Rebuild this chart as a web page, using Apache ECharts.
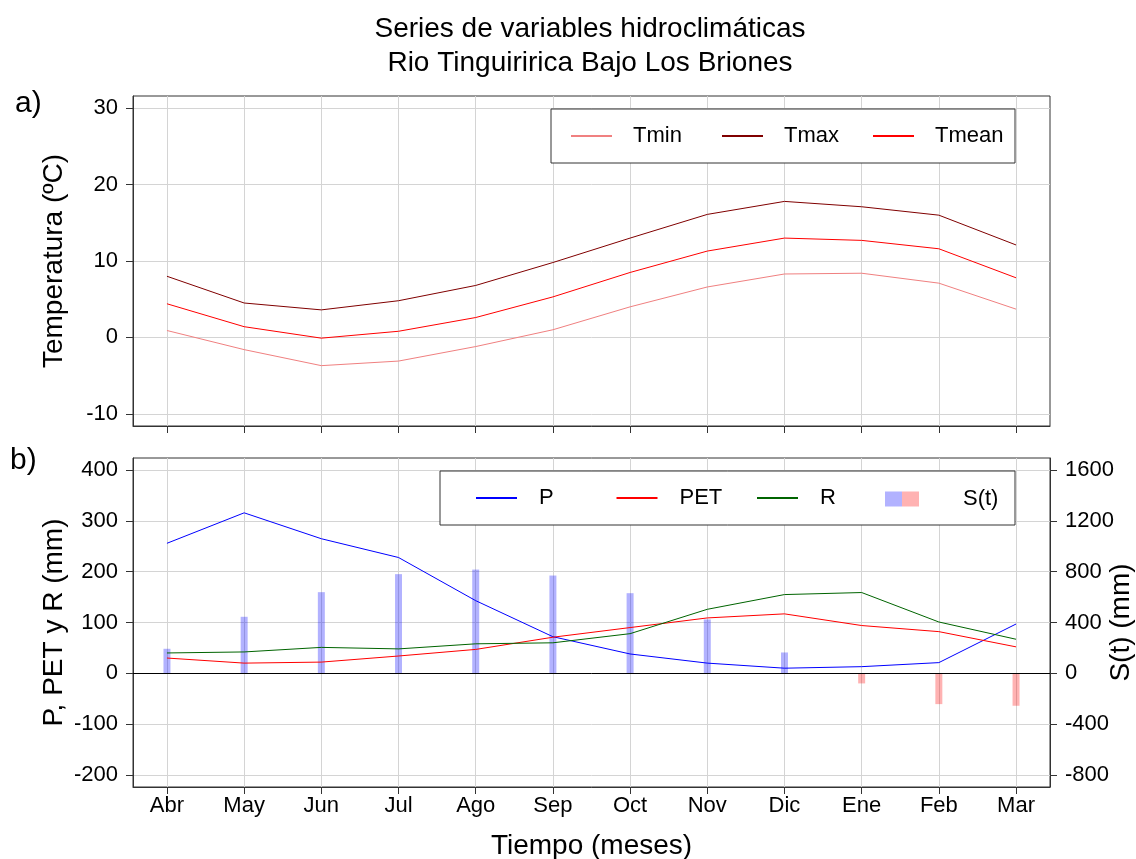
<!DOCTYPE html>
<html>
<head>
<meta charset="utf-8">
<script src="https://cdn.jsdelivr.net/npm/echarts@6.0.0/dist/echarts.min.js"></script>
<style>
  html, body { margin: 0; padding: 0; background: #ffffff; }
  #chart { width: 1136px; height: 859px; }
</style>
</head>
<body>
<div id="chart"></div>
<script>
// Monthly hydroclimatic series, hydrological year April–March
const months = ['Abr', 'May', 'Jun', 'Jul', 'Ago', 'Sep', 'Oct', 'Nov', 'Dic', 'Ene', 'Feb', 'Mar'];

// Temperatures (°C)
const tmin  = [0.9, -1.6, -3.7, -3.1, -1.2, 1.0, 4.0, 6.6, 8.3, 8.4, 7.1, 3.7];
const tmax  = [8.0, 4.5, 3.6, 4.8, 6.8, 9.8, 13.0, 16.1, 17.8, 17.1, 16.0, 12.1];
const tmean = [4.4, 1.4, -0.1, 0.8, 2.6, 5.3, 8.5, 11.3, 13.0, 12.7, 11.6, 7.8];

// Water balance terms (mm)
const precip = [256, 316, 265, 228, 143, 72, 38, 20, 10, 13, 21, 97];
const pet    = [30, 20, 22, 34, 47, 71, 90, 109, 117, 94, 82, 52];
const runoff = [40, 42, 51, 48, 58, 60, 78, 126, 155, 159, 101, 67];
const storage = [193, 445, 639, 781, 817, 770, 631, 424, 164, -80, -243, -256];

// Tick values
const tempTicks = [-10, 0, 10, 20, 30];
const balTicks = [-200, -100, 0, 100, 200, 300, 400];
const storTicks = [-800, -400, 0, 400, 800, 1200, 1600];

const FONT = 'Liberation Sans, Arial, sans-serif';
const frame = '#333333';
const gridGray = '#d4d4d4';

// 4% padding on each side of the data range
function padRange(lo, hi) {
  const d = (hi - lo) * 0.04;
  return [lo - d, hi + d];
}
const monthIdx = months.map((m, i) => i + 1);
const xRange = padRange(1, months.length);
const tRange = padRange(tempTicks[0], tempTicks[tempTicks.length - 1]);
const bRange = padRange(balTicks[0], balTicks[balTicks.length - 1]);
const sRange = padRange(storTicks[0], storTicks[storTicks.length - 1]);

const pairs = arr => arr.map((v, i) => [i + 1, v]);

const blueFill = 'rgba(0,0,255,0.3)';
const redFill = 'rgba(255,0,0,0.3)';
const BAR_W = 7;

function xAxisDef(gridIndex, withLabels) {
  return {
    type: 'value',
    gridIndex: gridIndex,
    min: xRange[0],
    max: xRange[1],
    splitNumber: 12,
    minInterval: 1,
    maxInterval: 1,
    axisLine: { show: true, onZero: false, lineStyle: { color: frame, width: 1 } },
    axisTick: { show: true, length: 7, customValues: monthIdx, lineStyle: { color: frame, width: 1 } },
    axisLabel: {
      show: withLabels,
      customValues: monthIdx,
      margin: 8,
      fontSize: 22,
      color: '#000',
      fontFamily: FONT,
      formatter: v => months[Math.round(v) - 1] || ''
    },
    splitLine: { show: true, lineStyle: { color: gridGray, width: 1 } },
    name: withLabels ? 'Tiempo (meses)' : '',
    nameLocation: 'middle',
    nameGap: 45,
    nameMoveOverlap: false,
    nameTextStyle: { fontSize: 28, color: '#000', fontFamily: FONT }
  };
}

function yAxisDef(gridIndex, range, ticks, step, opts) {
  return Object.assign({
    type: 'value',
    gridIndex: gridIndex,
    min: range[0],
    max: range[1],
    minInterval: step,
    maxInterval: step,
    axisLine: { show: true, onZero: false, lineStyle: { color: frame, width: 1 } },
    axisTick: { show: true, length: 7, customValues: ticks, lineStyle: { color: frame, width: 1 } },
    axisLabel: {
      customValues: ticks,
      margin: 15,
      fontSize: 22,
      color: '#000',
      fontFamily: FONT,
      formatter: v => String(Math.round(v))
    },
    splitLine: { show: true, lineStyle: { color: gridGray, width: 1 } },
    nameLocation: 'middle',
    nameMoveOverlap: false,
    nameTextStyle: { fontSize: 28, color: '#000', fontFamily: FONT }
  }, opts);
}

const lineSeries = (name, data, color, xi, yi, extra) => Object.assign({
  name: name,
  type: 'line',
  xAxisIndex: xi,
  yAxisIndex: yi,
  data: pairs(data),
  symbol: 'none',
  lineStyle: { color: color, width: 1 },
  itemStyle: { color: color },
  z: 3
}, extra || {});

const chart = echarts.init(document.getElementById('chart'), null, { renderer: 'canvas' });

const legendText = (w, padL) => ({
  fontSize: 22, color: '#000', fontFamily: FONT, width: w, lineHeight: 20, padding: [0, 0, 0, padL]
});
const lineKey = names => names.map(n => ({ name: n, icon: 'rect' }));

const panelGrid = (top, height) => ({
  left: 133, right: 86, top: top, height: height,
  outerBoundsMode: 'none', containLabel: false,
  show: true, borderColor: frame, borderWidth: 1, backgroundColor: 'transparent'
});

chart.setOption({
  animation: false,
  backgroundColor: '#ffffff',
  graphic: [
    { type: 'text', x: 590, y: 13, style: {
        text: 'Series de variables hidroclimáticas\nRio Tinguiririca Bajo Los Briones',
        font: '28px ' + FONT, fill: '#000', textAlign: 'center', lineHeight: 33.5 } },
    { type: 'text', x: 15, y: 89, style: { text: 'a)', font: '30px ' + FONT, fill: '#000' } },
    { type: 'text', x: 10, y: 446, style: { text: 'b)', font: '30px ' + FONT, fill: '#000' } }
  ],
  grid: [ panelGrid(96, 330), panelGrid(458, 329) ],
  xAxis: [ xAxisDef(0, false), xAxisDef(1, true) ],
  yAxis: [
    yAxisDef(0, tRange, tempTicks, 10, { name: 'Temperatura (ºC)', nameGap: 65 }),
    yAxisDef(1, bRange, balTicks, 100, { name: 'P, PET y R (mm)', nameGap: 65 }),
    yAxisDef(1, sRange, storTicks, 400, {
      name: 'S(t) (mm)', nameGap: 57, position: 'right',
      splitLine: { show: false }
    })
  ],
  legend: [
    {
      data: lineKey(['Tmin', 'Tmax', 'Tmean']),
      left: 551, top: 109,
      orient: 'horizontal',
      padding: [16, 10, 16, 20],
      itemWidth: 41, itemHeight: 2, itemGap: 19,
      borderColor: frame, borderWidth: 1, borderRadius: 0,
      backgroundColor: '#ffffff',
      textStyle: legendText(70, 16),
      selectedMode: false
    },
    {
      data: lineKey(['P', 'PET', 'R']),
      left: 440, top: 471,
      orient: 'horizontal',
      padding: [16, 135, 16, 36],
      itemWidth: 41, itemHeight: 2, itemGap: 17.5,
      borderColor: frame, borderWidth: 1, borderRadius: 0,
      backgroundColor: '#ffffff',
      textStyle: legendText(60, 17),
      selectedMode: false
    },
    {
      data: [{
        name: 'S(t)',
        icon: 'rect',
        itemStyle: {
          color: {
            type: 'linear', x: 0, y: 0, x2: 1, y2: 0,
            colorStops: [
              { offset: 0, color: blueFill }, { offset: 0.5, color: blueFill },
              { offset: 0.5, color: redFill }, { offset: 1, color: redFill }
            ]
          }
        }
      }],
      left: 885, top: 471,
      padding: [17, 0, 17, 0],
      itemWidth: 34, itemHeight: 15,
      textStyle: legendText(45, 39),
      selectedMode: false,
      z: 10
    }
  ],
  series: [
    lineSeries('Tmin', tmin, '#f08080', 0, 0),
    lineSeries('Tmax', tmax, '#800000', 0, 0),
    lineSeries('Tmean', tmean, '#ff0000', 0, 0),
    {
      // storage change drawn as thin bars from zero on the right axis
      name: 'S(t)',
      type: 'custom',
      coordinateSystem: 'cartesian2d',
      xAxisIndex: 1,
      yAxisIndex: 2,
      data: pairs(storage),
      encode: { x: 0, y: 1 },
      itemStyle: { color: blueFill },
      renderItem: (params, api) => {
        const x = api.value(0);
        const v = api.value(1);
        const tip = api.coord([x, v]);
        const base = api.coord([x, 0]);
        return {
          type: 'rect',
          shape: {
            x: tip[0] - BAR_W / 2,
            y: Math.min(tip[1], base[1]),
            width: BAR_W,
            height: Math.abs(base[1] - tip[1])
          },
          style: { fill: v >= 0 ? blueFill : redFill }
        };
      },
      z: 2
    },
    lineSeries('P', precip, '#0000ff', 1, 1, {
      markLine: {
        silent: true,
        symbol: 'none',
        label: { show: false },
        lineStyle: { color: '#000', width: 1, type: 'solid' },
        data: [{ yAxis: 0 }]
      }
    }),
    lineSeries('PET', pet, '#ff0000', 1, 1),
    lineSeries('R', runoff, '#006400', 1, 1)
  ]
});
</script>
</body>
</html>
